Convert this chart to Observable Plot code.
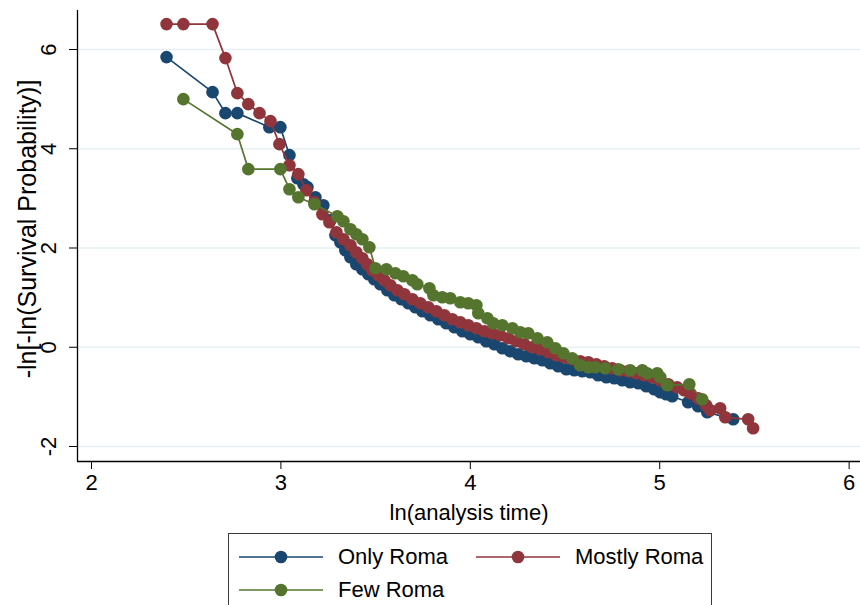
<!DOCTYPE html>
<html><head><meta charset="utf-8">
<script src="https://cdn.jsdelivr.net/npm/d3@7"></script>
<script src="https://cdn.jsdelivr.net/npm/@observablehq/plot@0.6"></script>
<style>
body{margin:0;background:#fff;font-family:"Liberation Sans",Arial,sans-serif;}
#wrap{position:relative;width:860px;height:605px;overflow:hidden;background:#fff;}
#legend{position:absolute;left:228px;top:533px;width:484px;height:95px;border:1.5px solid #3a3a3a;box-sizing:border-box;}
.sw{position:absolute;width:84px;height:16px;}
.lt{position:absolute;font-size:22px;line-height:22px;color:#000;white-space:nowrap;}
</style></head><body><div id="wrap"><div id="chart"></div><div id="legend"></div></div>
<script>
const seriesNames = ["Only Roma", "Mostly Roma", "Few Roma"];
const seriesColors = ["#1a476f", "#90353b", "#55752f"];
const xTicks = [2, 3, 4, 5, 6];
const yTicks = [-2, 0, 2, 4, 6];
const xDomain = [1.926, 6.06];
const yDomain = [-2.302, 6.786];

const onlyX = [2.396,2.639,2.707,2.770,2.939,2.997,3.045,3.087,3.119,3.140,3.182,3.224,3.261,3.288,3.314,3.340,3.367,3.398,3.430,3.462,3.493,3.525,3.562,3.599,3.636,3.673,3.710,3.747,3.789,3.831,3.873,3.916,3.958,4.000,4.042,4.084,4.127,4.169,4.211,4.253,4.296,4.338,4.380,4.422,4.464,4.507,4.549,4.591,4.633,4.675,4.718,4.760,4.802,4.844,4.887,4.929,4.971,5.003,5.034,5.066,5.150,5.203,5.251,5.388];
const onlyY = [5.847,5.141,4.718,4.718,4.435,4.435,3.871,3.407,3.286,3.226,3.024,2.863,2.560,2.258,2.117,1.956,1.815,1.673,1.573,1.472,1.371,1.270,1.149,1.048,0.968,0.887,0.806,0.726,0.645,0.565,0.484,0.403,0.323,0.262,0.202,0.121,0.060,-0.020,-0.081,-0.141,-0.181,-0.222,-0.262,-0.323,-0.383,-0.444,-0.464,-0.484,-0.504,-0.565,-0.605,-0.625,-0.665,-0.706,-0.726,-0.786,-0.847,-0.907,-0.948,-0.988,-1.109,-1.190,-1.310,-1.452];

const mostlyX = [2.396,2.485,2.639,2.707,2.770,2.828,2.887,2.945,2.992,3.045,3.092,3.135,3.177,3.219,3.256,3.293,3.330,3.367,3.398,3.430,3.456,3.483,3.515,3.546,3.578,3.615,3.652,3.694,3.736,3.778,3.821,3.863,3.905,3.947,3.989,4.032,4.074,4.116,4.158,4.201,4.243,4.285,4.327,4.369,4.412,4.454,4.496,4.538,4.580,4.623,4.665,4.707,4.749,4.792,4.834,4.876,4.918,4.960,5.003,5.045,5.092,5.129,5.161,5.203,5.245,5.267,5.319,5.346,5.467,5.493];
const mostlyY = [6.512,6.512,6.512,5.827,5.121,4.899,4.718,4.556,4.093,3.669,3.488,3.165,2.923,2.681,2.520,2.319,2.177,2.056,1.915,1.794,1.673,1.552,1.452,1.351,1.250,1.149,1.069,0.968,0.887,0.806,0.726,0.645,0.565,0.504,0.444,0.383,0.323,0.282,0.242,0.181,0.121,0.060,0.000,-0.040,-0.101,-0.161,-0.202,-0.242,-0.282,-0.302,-0.343,-0.383,-0.423,-0.464,-0.484,-0.524,-0.565,-0.605,-0.665,-0.746,-0.806,-0.867,-0.927,-1.028,-1.169,-1.270,-1.230,-1.411,-1.452,-1.633];

const fewX = [2.485,2.770,2.828,2.997,3.045,3.092,3.177,3.298,3.330,3.367,3.398,3.430,3.467,3.499,3.557,3.604,3.646,3.694,3.720,3.784,3.805,3.852,3.894,3.947,3.989,4.032,4.042,4.090,4.121,4.169,4.222,4.264,4.306,4.354,4.406,4.449,4.491,4.538,4.580,4.623,4.660,4.712,4.781,4.844,4.908,4.934,4.987,5.003,5.040,5.156,5.224];
const fewY = [5.000,4.294,3.589,3.589,3.185,3.024,2.883,2.641,2.540,2.379,2.278,2.177,2.016,1.593,1.573,1.492,1.431,1.351,1.270,1.190,1.048,1.008,0.988,0.907,0.887,0.847,0.685,0.585,0.484,0.444,0.383,0.302,0.282,0.181,0.101,-0.020,-0.121,-0.222,-0.363,-0.403,-0.403,-0.423,-0.444,-0.464,-0.464,-0.524,-0.524,-0.605,-0.766,-0.746,-1.048];

const seriesData = [[onlyX, onlyY], [mostlyX, mostlyY], [fewX, fewY]].map(([xs, ys]) => xs.map((x, i) => ({x, y: ys[i]})));

const FONT = "'Liberation Sans', Arial, sans-serif";
const seriesMarks = seriesData.flatMap((d, i) => [
  Plot.line(d, {x: "x", y: "y", stroke: seriesColors[i], strokeWidth: 1.7}),
  Plot.dot(d, {x: "x", y: "y", r: 6.3, fill: seriesColors[i], stroke: "none"})
]);

const chart = Plot.plot({
  width: 860, height: 525,
  marginLeft: 77, marginRight: 0, marginTop: 10, marginBottom: 64,
  x: {domain: xDomain},
  y: {domain: yDomain},
  style: {fontFamily: FONT, fontSize: "22px", background: "white", color: "#000"},
  marks: [
    Plot.gridY({ticks: yTicks, stroke: "#e6eff1", strokeOpacity: 1, strokeWidth: 1.5}),
    Plot.ruleX([xDomain[0]], {stroke: "#000", strokeWidth: 1.3}),
    Plot.ruleY([yDomain[0]], {stroke: "#000", strokeWidth: 1.3}),
    Plot.axisX({ticks: xTicks, tickSize: 8, tickPadding: 5, fontSize: 22, label: null, tickFormat: d => String(d)}),
    Plot.axisY({ticks: yTicks, tickSize: 8, label: null, tickFormat: () => ""}),
    Plot.text(yTicks, {y: d => d, text: d => String(d), frameAnchor: "left", dx: -29, rotate: -90, textAnchor: "middle", lineAnchor: "middle", fontSize: 22}),
    Plot.text(["-ln[-ln(Survival Probability)]"], {text: d => d, frameAnchor: "left", dx: -50, dy: -7, rotate: -90, textAnchor: "middle", lineAnchor: "middle", fontSize: 25}),
    Plot.text(["ln(analysis time)"], {text: d => d, frameAnchor: "bottom", dy: 51, textAnchor: "middle", lineAnchor: "middle", fontSize: 22}),
    ...seriesMarks
  ]
});
document.getElementById("chart").appendChild(chart);

const legendPos = [[10, 23, 109], [247, 23, 346], [10, 56, 109]];
const legend = document.getElementById("legend");
seriesNames.forEach((name, i) => {
  const [sx, cy, tx] = legendPos[i];
  const sw = document.createElementNS("http://www.w3.org/2000/svg", "svg");
  sw.setAttribute("class", "sw");
  sw.setAttribute("width", 84); sw.setAttribute("height", 16);
  sw.style.left = sx + "px"; sw.style.top = (cy - 8) + "px";
  sw.innerHTML = `<line x1="0" x2="84" y1="8" y2="8" stroke="${seriesColors[i]}" stroke-width="1.7"/><circle cx="42" cy="8" r="6.3" fill="${seriesColors[i]}"/>`;
  legend.appendChild(sw);
  const t = document.createElement("div");
  t.className = "lt";
  t.textContent = name;
  t.style.left = tx + "px"; t.style.top = (cy - 11) + "px";
  legend.appendChild(t);
});
</script></body></html>
